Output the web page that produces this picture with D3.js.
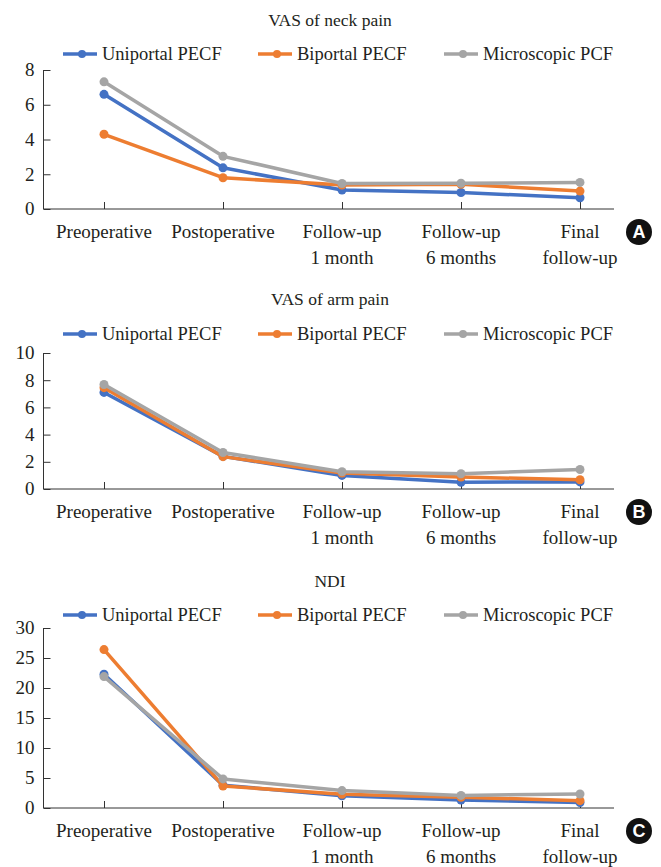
<!DOCTYPE html>
<html>
<head>
<meta charset="utf-8">
<script src="https://cdn.jsdelivr.net/npm/d3@7"></script>
<style>
  body { margin: 0; background: #fff; }
</style>
</head>
<body>
<div id="chart"></div>
<script>
// categories on the x axis (two lines each)
var categories = ["Preoperative", "Postoperative", "Follow-up 1 month", "Follow-up 6 months", "Final follow-up"];
var categoryLines = [["Preoperative"], ["Postoperative"], ["Follow-up", "1 month"], ["Follow-up", "6 months"], ["Final", "follow-up"]];

var seriesNames = ["Uniportal PECF", "Biportal PECF", "Microscopic PCF"];
var seriesColors = ["#4472c4", "#ed7d31", "#a5a5a5"];

// VAS of neck pain
var neckUniportal = [6.6, 2.37, 1.09, 0.95, 0.65];
var neckBiportal = [4.3, 1.8, 1.38, 1.42, 1.03];
var neckMicro = [7.32, 3.03, 1.47, 1.48, 1.53];
var neckTicks = [0, 2, 4, 6, 8];

// VAS of arm pain
var armUniportal = [7.1, 2.4, 1.0, 0.5, 0.52];
var armBiportal = [7.45, 2.38, 1.18, 0.88, 0.68];
var armMicro = [7.68, 2.68, 1.27, 1.12, 1.43];
var armTicks = [0, 2, 4, 6, 8, 10];

// NDI
var ndiUniportal = [22.3, 3.8, 2.05, 1.33, 0.9];
var ndiBiportal = [26.4, 3.67, 2.3, 1.8, 1.22];
var ndiMicro = [21.9, 4.85, 2.9, 2.1, 2.33];
var ndiTicks = [0, 5, 10, 15, 20, 25, 30];

var width = 661, height = 867;
var serif = "Liberation Serif";
var textColor = "#231f20";

var svg = d3.select("#chart").append("svg")
    .attr("width", width)
    .attr("height", height);

// layout of each panel (pixel positions only)
var panels = [
    {title: "VAS of neck pain", letter: "A", series: [neckUniportal, neckBiportal, neckMicro], ticks: neckTicks,
     titleY: 20, legendY: 54, top: 70, bottom: 209},
    {title: "VAS of arm pain", letter: "B", series: [armUniportal, armBiportal, armMicro], ticks: armTicks,
     titleY: 299, legendY: 334, top: 353, bottom: 489},
    {title: "NDI", letter: "C", series: [ndiUniportal, ndiBiportal, ndiMicro], ticks: ndiTicks,
     titleY: 581, legendY: 615, top: 628, bottom: 808}
];

var axisLeft = 43.5, axisRight = 614;
var legendX = [63, 258, 444];

var x = d3.scalePoint().domain(categories).range([104, 580]);

// plain serif text helper
function label(sel, str, px) {
    return sel.append("text")
        .attr("font-family", serif)
        .attr("font-size", px)
        .attr("fill", textColor)
        .text(str);
}

panels.forEach(function(p) {
    var g = svg.append("g");
    var y = d3.scaleLinear()
        .domain([0, d3.max(p.ticks)])
        .range([p.bottom, p.top]);

    // title
    label(g, p.title, 17.5)
        .attr("x", 330).attr("y", p.titleY)
        .attr("dy", "0.35em")
        .attr("text-anchor", "middle");

    // legend
    seriesNames.forEach(function(name, i) {
        var lx = legendX[i];
        g.append("line")
            .attr("x1", lx).attr("x2", lx + 34)
            .attr("y1", p.legendY).attr("y2", p.legendY)
            .attr("stroke", seriesColors[i])
            .attr("stroke-width", 3.5);
        g.append("circle")
            .attr("cx", lx + 19).attr("cy", p.legendY)
            .attr("r", 4)
            .attr("fill", seriesColors[i]);
        label(g, name, 18.5)
            .attr("x", lx + 39).attr("y", p.legendY)
            .attr("dy", "0.35em");
    });

    // y axis: ticks from d3, labels drawn beside them
    var yAxis = d3.axisLeft(y).tickValues(p.ticks).tickSize(-7).tickFormat("");
    var ya = g.append("g")
        .attr("transform", "translate(" + axisLeft + ",0)")
        .call(yAxis);
    ya.select(".domain").remove();
    ya.append("line")
        .attr("x1", 0).attr("x2", 0)
        .attr("y1", p.top).attr("y2", p.bottom)
        .attr("stroke", "#333");
    ya.selectAll(".tick line").attr("stroke", "#333");
    p.ticks.forEach(function(t) {
        label(g, String(t), 19)
            .attr("x", axisLeft - 9)
            .attr("y", y(t))
            .attr("dy", "0.34em")
            .attr("text-anchor", "end");
    });

    // x axis
    var xAxis = d3.axisBottom(x).tickSize(-7).tickFormat("");
    var xa = g.append("g")
        .attr("transform", "translate(0," + p.bottom + ")")
        .call(xAxis);
    xa.select(".domain").remove();
    xa.append("line")
        .attr("x1", axisLeft).attr("x2", axisRight)
        .attr("y1", 0).attr("y2", 0)
        .attr("stroke", "#333");
    xa.selectAll(".tick line").attr("stroke", "#333");

    categoryLines.forEach(function(lines, i) {
        lines.forEach(function(s, k) {
            label(g, s, 19)
                .attr("x", x(categories[i]))
                .attr("y", p.bottom + 29 + k * 25.5)
                .attr("text-anchor", "middle");
        });
    });

    // series lines and markers
    var line = d3.line()
        .x(function(d, i) { return x(categories[i]); })
        .y(function(d) { return y(d); });

    p.series.forEach(function(values, i) {
        g.append("path")
            .datum(values)
            .attr("d", line)
            .attr("fill", "none")
            .attr("stroke", seriesColors[i])
            .attr("stroke-width", 3.5)
            .attr("stroke-linejoin", "round");
        g.selectAll(".dot" + i)
            .data(values)
            .enter().append("circle")
            .attr("cx", function(d, j) { return x(categories[j]); })
            .attr("cy", function(d) { return y(d); })
            .attr("r", 4.5)
            .attr("fill", seriesColors[i]);
    });

    // panel letter badge
    var cy = p.bottom + 23;
    g.append("circle")
        .attr("cx", 639).attr("cy", cy)
        .attr("r", 13)
        .attr("fill", "#111");
    g.append("text")
        .attr("x", 639).attr("y", cy)
        .attr("dy", "0.36em")
        .attr("text-anchor", "middle")
        .attr("font-family", "Liberation Sans")
        .attr("font-weight", "bold")
        .attr("font-size", 18)
        .attr("fill", "#fff")
        .text(p.letter);
});
</script>
</body>
</html>
